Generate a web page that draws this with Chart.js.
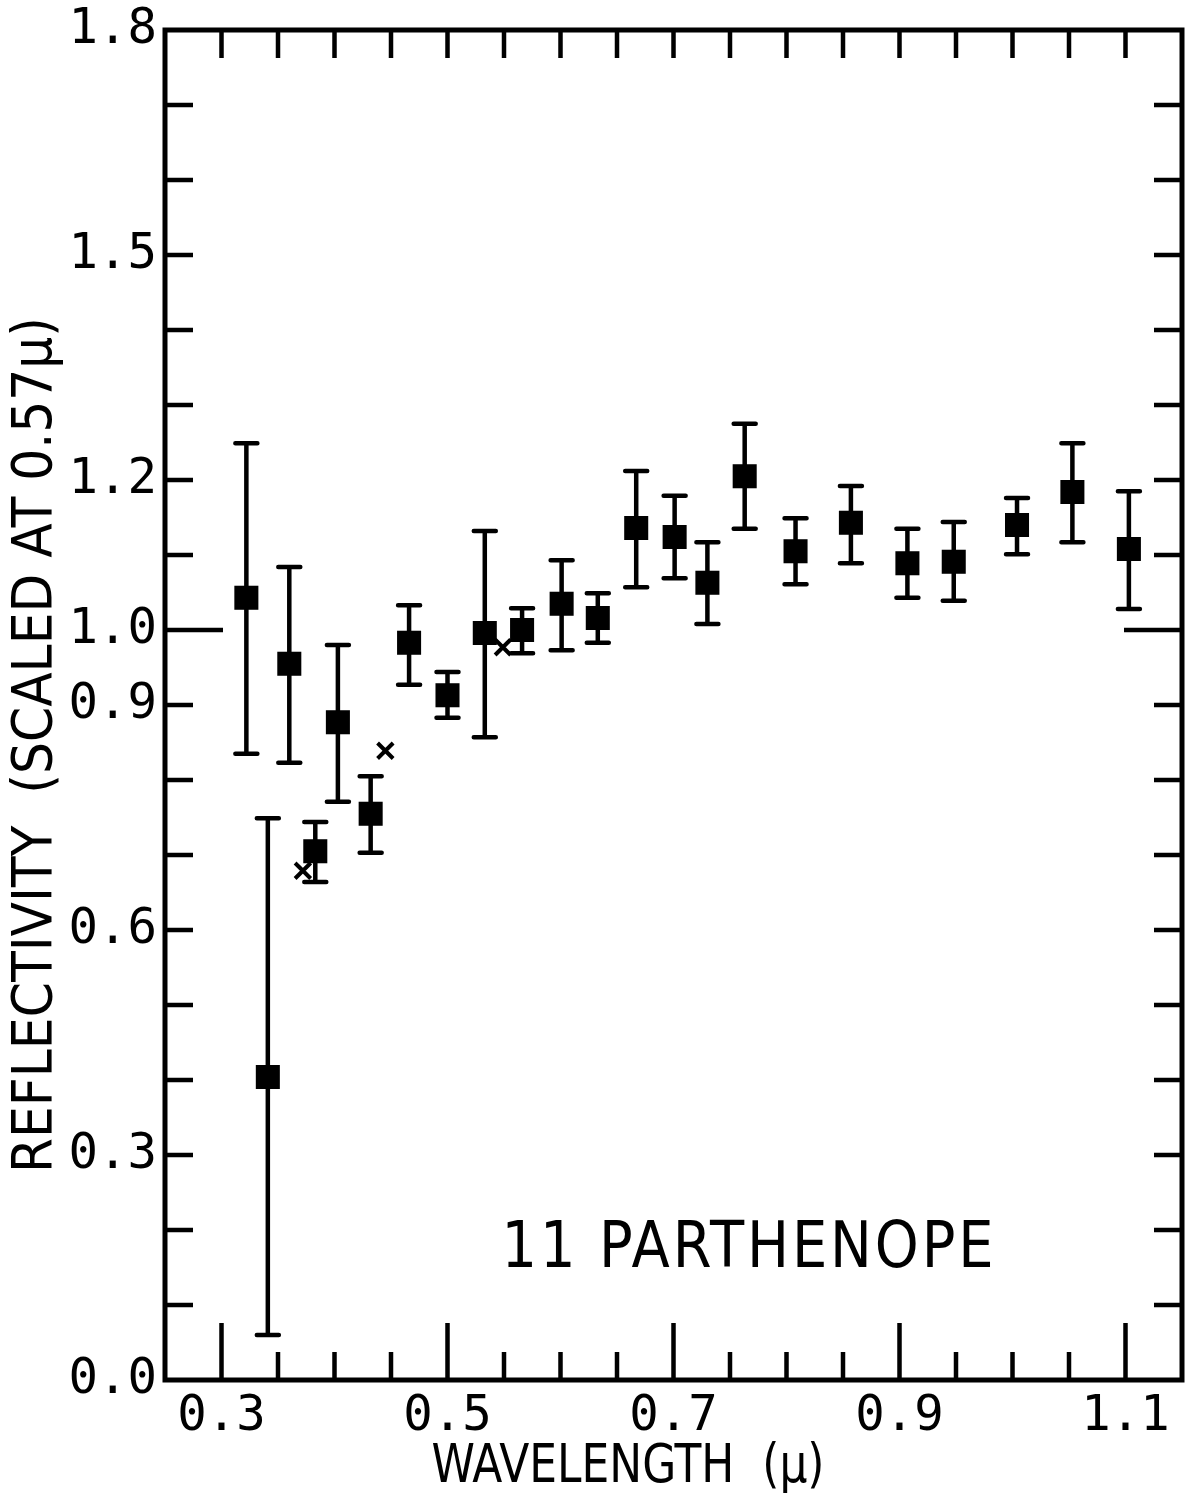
<!DOCTYPE html>
<html>
<head>
<meta charset="utf-8">
<script src="https://cdn.jsdelivr.net/npm/chart.js@4/dist/chart.umd.min.js"></script>
<style>
html, body { margin: 0; padding: 0; background: #fff; }
canvas { display: block; }
</style>
</head>
<body>
<canvas id="grafico" width="1185" height="1493"></canvas>
<script>
// wavelengths (micron) of the filter points
const wavelength = [0.322, 0.341, 0.360, 0.383, 0.403, 0.432, 0.466, 0.500, 0.533, 0.566, 0.601, 0.633,
                    0.667, 0.701, 0.730, 0.763, 0.808, 0.857, 0.907, 0.948, 1.004, 1.053, 1.103]
// reflectivity scaled at 0.57 micron
const reflect = [1.043, 0.404, 0.955, 0.705, 0.877, 0.755, 0.983, 0.913, 0.996, 1.000, 1.035, 1.016,
                 1.136, 1.124, 1.063, 1.205, 1.105, 1.143, 1.089, 1.091, 1.140, 1.184, 1.108]
const errTop = [1.249, 0.749, 1.084, 0.744, 0.980, 0.805, 1.033, 0.944, 1.132, 1.029, 1.093, 1.049,
                1.212, 1.179, 1.117, 1.275, 1.149, 1.192, 1.135, 1.144, 1.176, 1.249, 1.185]
const errBottom = [0.835, 0.060, 0.823, 0.664, 0.771, 0.703, 0.927, 0.883, 0.857, 0.969, 0.973, 0.983,
                   1.057, 1.069, 1.008, 1.135, 1.061, 1.089, 1.043, 1.039, 1.101, 1.117, 1.028]
// the three "x" points
const crossWave = [0.372, 0.445, 0.549]
const crossRefl = [0.679, 0.839, 0.977]
// tick labels
const xLabels = ['0.3', '0.5', '0.7', '0.9', '1.1']
const yLabels = ['0.0', '0.3', '0.6', '0.9', '1.0', '1.2', '1.5', '1.8']
const titulo = '11 PARTHENOPE'
const tituloX = 'WAVELENGTH  (\u00b5)'
const tituloY = 'REFLECTIVITY  (SCALED AT 0.57\u00b5)'

const fonteNum = '"DejaVu Sans Mono", monospace'
const fonteTxt = '"Liberation Sans Narrow", "DejaVu Sans Condensed", sans-serif'

const quadrados = wavelength.map((w, i) => ({x: w, y: reflect[i]}))
const cruzes = crossWave.map((w, i) => ({x: w, y: crossRefl[i]}))

const barrasErro = {
    id: 'barrasErro',
    beforeDatasetsDraw(chart) {
        const ctx = chart.ctx
        const xs = chart.scales.x, ys = chart.scales.y
        ctx.save()
        ctx.strokeStyle = '#000'
        ctx.lineWidth = 4.5
        ctx.lineCap = 'round'
        for (let i in wavelength) {
            let px = xs.getPixelForValue(wavelength[i])
            let t = ys.getPixelForValue(errTop[i])
            let b = ys.getPixelForValue(errBottom[i])
            ctx.beginPath()
            ctx.moveTo(px, t); ctx.lineTo(px, b)
            ctx.moveTo(px - 11, t); ctx.lineTo(px + 11, t)
            ctx.moveTo(px - 11, b); ctx.lineTo(px + 11, b)
            ctx.stroke()
        }
        ctx.restore()
    }
}

const moldura = {
    id: 'moldura',
    afterDraw(chart) {
        const ctx = chart.ctx
        const a = chart.chartArea
        const xs = chart.scales.x, ys = chart.scales.y
        ctx.save()
        ctx.strokeStyle = '#000'
        ctx.lineWidth = 5
        ctx.lineCap = 'butt'
        ctx.strokeRect(a.left, a.top, a.right - a.left, a.bottom - a.top)
        ctx.lineWidth = 4.5
        ctx.beginPath()
        xs.ticks.forEach(t => {
            let v = Math.round(t.value * 100)
            if (v <= 25 || v >= 115) return
            let px = xs.getPixelForValue(t.value)
            let longo = v % 20 === 10
            ctx.moveTo(px, a.bottom); ctx.lineTo(px, a.bottom - (longo ? 57 : 28))
            ctx.moveTo(px, a.top); ctx.lineTo(px, a.top + 28)
        })
        ys.ticks.forEach(t => {
            let v = Math.round(t.value * 10)
            if (v <= 0 || v >= 18) return
            let py = ys.getPixelForValue(t.value)
            let len = v === 10 ? 58 : 28
            ctx.moveTo(a.left, py); ctx.lineTo(a.left + len, py)
            ctx.moveTo(a.right, py); ctx.lineTo(a.right - len, py)
        })
        ctx.stroke()

        ctx.fillStyle = '#000'
        ctx.textAlign = 'center'
        ctx.textBaseline = 'middle'
        // annotation
        ctx.font = '64px ' + fonteTxt
        ctx.letterSpacing = '3px'
        ctx.fillText(titulo, xs.getPixelForValue(0.765) + 2, ys.getPixelForValue(0.173), 495)
        ctx.letterSpacing = '0px'
        // axis titles
        ctx.font = '54px ' + fonteTxt
        ctx.fillText(tituloX, 628, 1468, 393)
        ctx.translate(36, 745)
        ctx.rotate(-Math.PI / 2)
        ctx.font = '56px ' + fonteTxt
        ctx.fillText(tituloY, 0, 0, 870)
        ctx.restore()
    }
}

const config = {
    type: 'scatter',
    data: {
        datasets: [
            {
                label: 'filtros',
                data: quadrados,
                pointStyle: 'rect',
                pointRadius: 17,
                backgroundColor: '#000',
                borderColor: '#000',
                borderWidth: 0
            },
            {
                label: 'x',
                data: cruzes,
                pointStyle: 'crossRot',
                pointRadius: 11,
                borderColor: '#000',
                borderWidth: 4
            }
        ]
    },
    options: {
        responsive: false,
        animation: false,
        layout: { autoPadding: false, padding: 0 },
        plugins: {
            legend: { display: false },
            tooltip: { enabled: false }
        },
        scales: {
            x: {
                type: 'linear',
                min: 0.25,
                max: 1.15,
                afterFit: s => { s.height = 113; s.paddingLeft = 0; s.paddingRight = 3 },
                grid: { display: false, drawTicks: false },
                border: { display: false },
                ticks: {
                    stepSize: 0.05,
                    autoSkip: false,
                    maxRotation: 0,
                    padding: 8,
                    color: '#000',
                    font: { family: fonteNum, size: 49 },
                    callback: v => {
                        let s = (Math.round(v * 100) / 100).toFixed(2)
                        let l = s.slice(0, 3)
                        return (s.endsWith('0') && xLabels.includes(l)) ? l : ''
                    }
                }
            },
            y: {
                type: 'linear',
                min: 0,
                max: 1.8,
                afterFit: s => { s.width = 165; s.paddingTop = 30; s.paddingBottom = 0 },
                grid: { display: false, drawTicks: false },
                border: { display: false },
                ticks: {
                    stepSize: 0.1,
                    autoSkip: false,
                    padding: 8,
                    color: '#000',
                    font: { family: fonteNum, size: 49 },
                    callback: v => {
                        let s = v.toFixed(1)
                        return yLabels.includes(s) ? s : ''
                    }
                }
            }
        }
    },
    plugins: [barrasErro, moldura]
}

const myChart = new Chart(document.getElementById('grafico'), config)
</script>
</body>
</html>
